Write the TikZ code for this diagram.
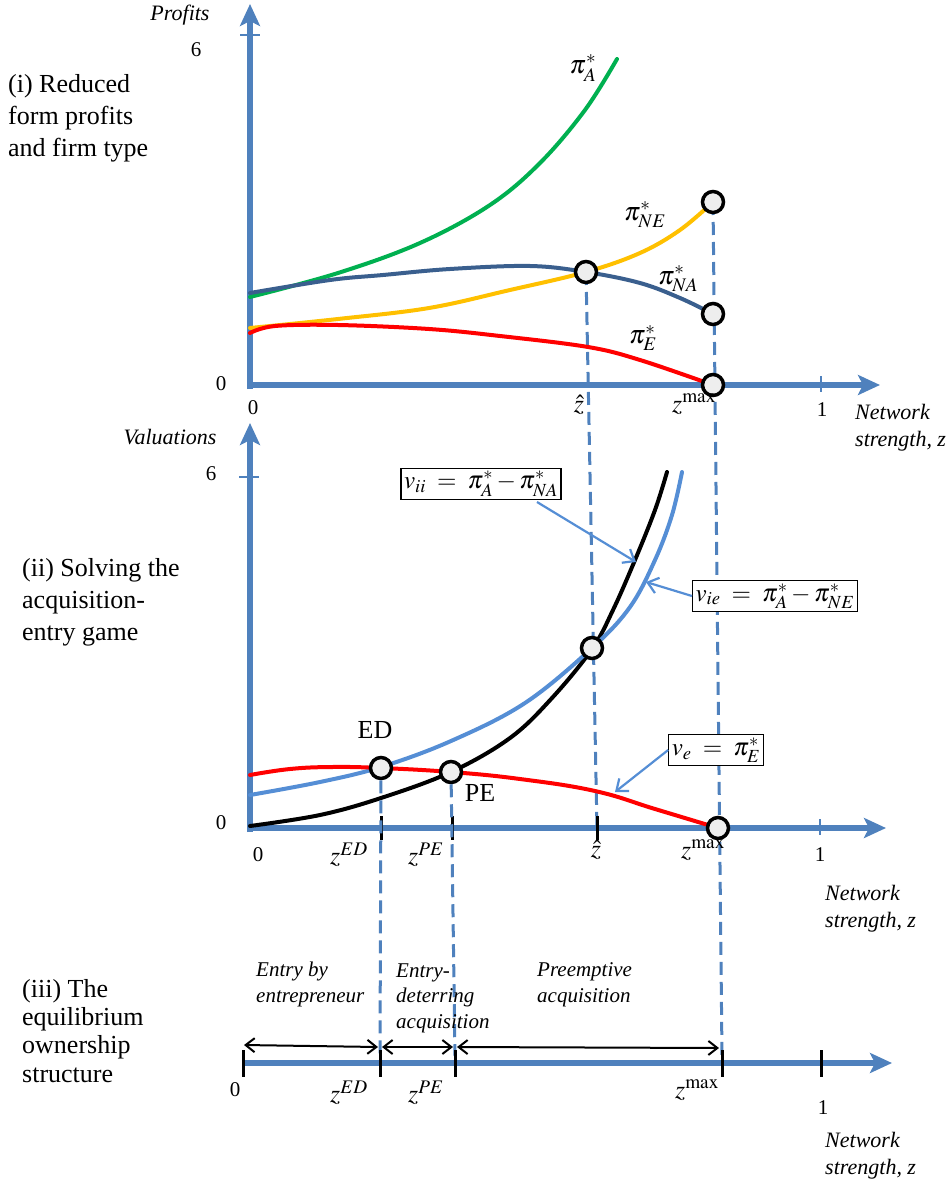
\documentclass[tikz,border=0pt]{standalone}
\usepackage{mathptmx}
\usepackage{fontspec}
\setmainfont{Liberation Serif}
\usetikzlibrary{arrows.meta,calc}
\definecolor{axisblue}{HTML}{4F81BD}
\definecolor{dashblue}{HTML}{4F81BD}
\definecolor{curvegreen}{HTML}{00B050}
\definecolor{curvenavy}{HTML}{3A5F8E}
\definecolor{curveyellow}{HTML}{FFC000}
\definecolor{curvered}{HTML}{FF0000}
\definecolor{curvelight}{HTML}{558ED5}
\definecolor{dotfill}{HTML}{EEEEEE}
\begin{document}
\begin{tikzpicture}[x=1pt,y=-1pt,
  axisline/.style={line width=6pt,draw=axisblue,-{Stealth[length=22pt,width=20pt,inset=5pt]}},
  smalltick/.style={line width=1.5pt,draw=axisblue},
  blacktick/.style={line width=3pt,draw=black},
  curve/.style={line width=4pt,line cap=round},
  dashline/.style={line width=3pt,draw=dashblue,dash pattern=on 13pt off 7pt},
  dot/.style={circle,draw=black,fill=dotfill,line width=3.5pt,minimum size=21pt,inner sep=0pt},
  title/.style={font=\fontsize{26}{32}\selectfont,align=left,inner sep=0pt,anchor=base west},
  itl/.style={font=\fontsize{22}{27}\selectfont\itshape,align=left,inner sep=0pt},
  region/.style={font=\fontsize{21}{25.5}\selectfont\itshape,align=left,inner sep=0pt,anchor=base west},
  num/.style={font=\fontsize{21}{25}\selectfont,inner sep=0pt},
  mlab/.style={font=\fontsize{26}{30}\selectfont,inner sep=0pt},
  eqbox/.style={draw=black,line width=1.3pt,fill=white,font=\fontsize{25}{30}\selectfont,inner sep=3pt},
  callout/.style={line width=2.2pt,draw=curvelight,-{Straight Barb[length=10pt,width=16pt]}},
  span/.style={line width=2pt,draw=black,{Straight Barb[length=9pt,width=14pt]}-{Straight Barb[length=9pt,width=14pt]}}
]
\useasboundingbox (0,0) rectangle (952,1182);

% ---------------- dashed guide lines (behind) ----------------
\coordinate (hatTop) at (586,272);
\coordinate (hatEnd) at (597,829);
\coordinate (maxTop) at (713,202);
\coordinate (maxEnd) at (722,1056);
\coordinate (edEnd) at (380,1056);
\coordinate (peEnd) at (455,1056);
\draw[dashline] (hatTop) -- (hatEnd);
\draw[dashline] (maxTop) -- (maxEnd);

% ================= panel (i) =================
\coordinate (o1) at (250,385);
\draw[axisline] (250,389) -- (250,4);
\draw[axisline] (247,385) -- (880,385);
\draw[smalltick] (240,35) -- (260,35);
\draw[smalltick] (821,376) -- (821,392);

\draw[curve,curvegreen] plot[smooth,tension=0.6] coordinates {(250,297) (338,273) (420,243) (490,205) (540,163) (585,110) (617,59)};
\draw[curve,curvenavy] plot[smooth,tension=0.6] coordinates {(250,293) (330,280) (383,275) (450,269) (530,266) (586,272) (640,283) (680,298) (713,314)};
\draw[curve,curveyellow] plot[smooth,tension=0.6] coordinates {(250,328) (338,319) (429,308) (510,290) (586,272) (640,253) (680,230) (713,202)};
\draw[curve,curvered] plot[smooth,tension=0.6] coordinates {(250,333) (275,326) (338,325) (429,329) (500,336) (588,347) (640,360) (713,385)};

\node[dot] (c1hat) at (586,272) {};
\node[dot] (c1ne) at (713,202) {};
\node[dot] (c1na) at (713,314) {};
\node[dot] (c1e) at (713,385) {};

\node[mlab] (piA) at (583,68) {$\pi^*_A$};
\node[mlab] (piNE) at (645,215) {$\pi^*_{NE}$};
\node[mlab] (piNA) at (678,279) {$\pi^*_{NA}$};
\node[mlab] (piE) at (643,338) {$\pi^*_E$};

\node[itl] (profits) at (180,15) {Profits};
\node[num] (six1) at (196,50) {6};
\node[num] (zeroL1) at (221,384) {0};
\node[num] (zeroB1) at (253,408) {0};
\node[mlab] (zhat1) at (579,405) {$\hat z$};
\node[mlab] (zmax1) at (694,404) {$z^{\max}$};
\node[num] (one1) at (822,410) {1};
\node[itl,anchor=north west] (net1) at (855,404) {Network\\strength, z};

\node[title] (t1) at (8,157) {(i) Reduced\\form profits\\and firm type};

% ================= panel (ii) =================
\coordinate (o2) at (250,828);
\draw[axisline] (250,832) -- (250,423);
\draw[axisline] (247,828) -- (886,828);
\draw[smalltick] (239,477) -- (259,477);
\draw[smalltick] (820,819) -- (820,835);

\draw[curve,black] plot[smooth,tension=0.6] coordinates {(250,826) (320,815) (381,798) (451,772) (510,738) (552,698) (592,649) (613,610) (635,560) (655,510) (667,472)};
\draw[curve,curvelight] plot[smooth,tension=0.6] coordinates {(250,795) (320,782) (381,767) (451,741) (525,703) (592,648) (630,607) (655,560) (672,515) (682,472)};
\draw[curve,curvered] plot[smooth,tension=0.7] coordinates {(250,775) (290,769) (332,767) (381,768) (451,772) (520,779) (595,791) (655,809) (718,828)};

\draw[blacktick] (381,816) -- (381,840);
\draw[blacktick] (452,816) -- (452,840);
\draw[blacktick] (597,816) -- (597,840);

\node[dot] (c2ed) at (381,768) {};
\node[dot] (c2pe) at (451,772) {};
\node[dot] (c2hat) at (592,648) {};
\node[dot] (c2max) at (718,828) {};

\draw[dashline] (c2ed) -- (edEnd);
\draw[dashline] (c2pe) -- (peEnd);

\node[mlab] (ED) at (375,730) {ED};
\node[mlab] (PE) at (480,793) {PE};

\node[eqbox] (vii) at (481,484) {$v_{ii}\;=\;\pi^*_A-\pi^*_{NA}$};
\node[eqbox] (vie) at (775,596) {$v_{ie}\;=\;\pi^*_A-\pi^*_{NE}$};
\node[eqbox] (ve) at (716,750) {$v_{e}\;=\;\pi^*_E$};
\coordinate (viiTip) at (636,562);
\coordinate (vieTip) at (646,582);
\coordinate (veTip) at (615,792);
\draw[callout] (537,502) -- (viiTip);
\draw[callout] (vie.west) -- (vieTip);
\draw[callout] (ve.west) -- (veTip);

\node[itl] (valu) at (170,437) {Valuations};
\node[num] (six2) at (211,474) {6};
\node[num] (zeroL2) at (221,823) {0};
\node[num] (zeroB2) at (258,855) {0};
\node[mlab] (zed2) at (349,855) {$z^{ED}$};
\node[mlab] (zpe2) at (426,855) {$z^{PE}$};
\node[mlab] (zhat2) at (596,850) {$\hat z$};
\node[mlab] (zmax2) at (703,850) {$z^{\max}$};
\node[num] (one2) at (820,855) {1};
\node[itl,anchor=north west] (net2) at (825,885) {Network\\strength, z};

\node[title] (t2) at (22,640) {(ii) Solving the\\acquisition-\\entry game};

% ================= panel (iii) =================
\draw[axisline] (243,1063) -- (892,1063);
\coordinate (b0) at (243,1063);
\coordinate (bed) at (380,1063);
\coordinate (bpe) at (455,1063);
\coordinate (bmax) at (722,1063);
\coordinate (b1) at (821,1063);
\foreach \p in {b0,bed,bpe,bmax,b1} \draw[blacktick] ($(\p)+(0,-13)$) -- ($(\p)+(0,14)$);

\coordinate (s0) at (244,1045);
\coordinate (s1) at (378,1047);
\coordinate (s2) at (382,1047);
\coordinate (s3) at (453,1047);
\coordinate (s4) at (457,1047);
\coordinate (s5) at (719,1048);
\draw[span] (s0) -- (s1);
\draw[span] (s2) -- (s3);
\draw[span] (s4) -- (s5);

\node[region] (r1) at (256,1002) {Entry by\\entrepreneur};
\node[region] (r2) at (396,1028) {Entry-\\deterring\\acquisition};
\node[region] (r3) at (537,1002) {Preemptive\\acquisition};

\node[num] (zero3) at (235,1090) {0};
\node[mlab] (zed3) at (349,1093) {$z^{ED}$};
\node[mlab] (zpe3) at (426,1093) {$z^{PE}$};
\node[mlab] (zmax3) at (697,1090) {$z^{\max}$};
\node[num] (one3) at (823,1108) {1};
\node[itl,anchor=north west] (net3) at (825,1132) {Network\\strength, z};

\node[title,font=\fontsize{26}{28.3}\selectfont] (t3) at (22,1082) {(iii) The\\equilibrium\\ownership\\structure};
\end{tikzpicture}
\end{document}
